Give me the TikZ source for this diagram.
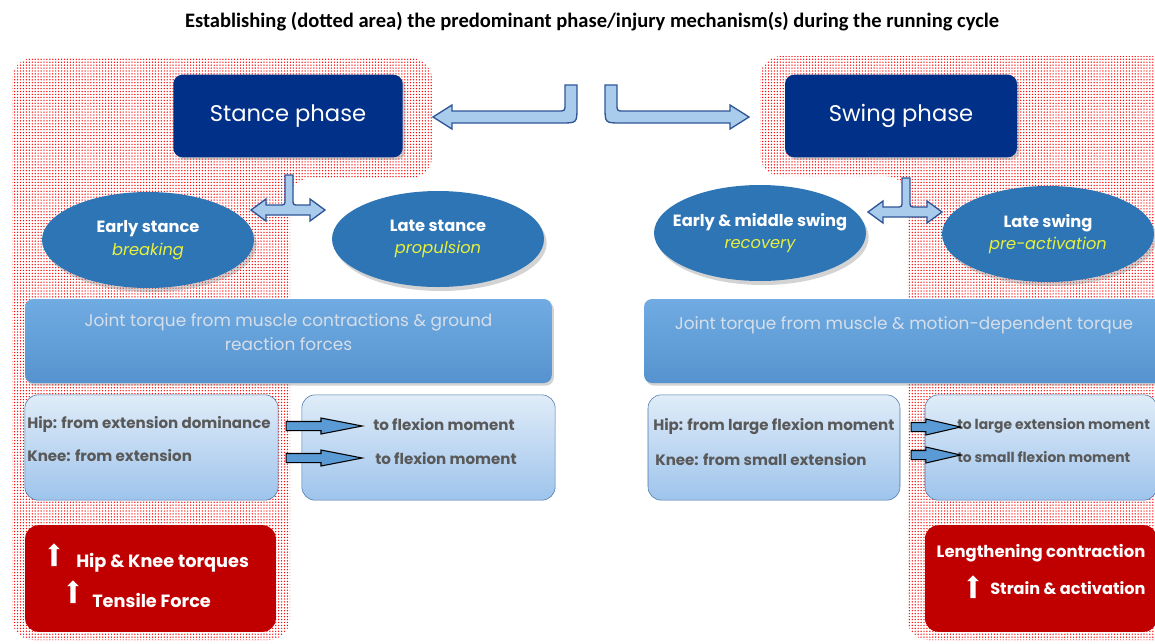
\documentclass[tikz,border=0pt]{standalone}
\usepackage{fontspec}
\setmainfont{Poppins}
\newfontfamily\titlefont{Carlito}
\usetikzlibrary{arrows.meta,positioning,shapes.geometric,shapes.arrows,shadows,patterns.meta}

\definecolor{navy}{RGB}{0,48,135}
\definecolor{ellblue}{RGB}{46,117,182}
\definecolor{widetop}{RGB}{112,172,226}
\definecolor{widebot}{RGB}{86,146,206}
\definecolor{widetext}{RGB}{214,222,234}
\definecolor{smalltop}{RGB}{224,236,248}
\definecolor{smallbot}{RGB}{158,196,236}
\definecolor{smallline}{RGB}{72,118,168}
\definecolor{graytext}{RGB}{89,89,89}
\definecolor{darkred}{RGB}{192,0,0}
\definecolor{ylw}{RGB}{232,240,60}
\definecolor{bentfill}{RGB}{170,204,236}
\definecolor{bentline}{RGB}{47,85,151}
\definecolor{blockfill}{RGB}{91,155,213}

\begin{document}
\begin{tikzpicture}[x=0.75pt,y=-0.75pt]
  \useasboundingbox (0,0) rectangle (1155,643);

  % dotted areas
  \begin{scope}[rounded corners=16pt]
    \path[pattern={Dots[distance=2.2pt,radius=0.55pt]}, pattern color=red]
      (12,58) -- (432,58) -- (432,178) -- (290,178) -- (290,640) -- (12,640) -- cycle;
    \path[pattern={Dots[distance=2.2pt,radius=0.55pt]}, pattern color=red]
      (760,56) -- (1175,56) -- (1175,640) -- (907,640) -- (907,176) -- (760,176) -- cycle;
  \end{scope}

  \node (title) at (592,22) {\titlefont\bfseries\fontsize{15.4}{17}\selectfont
    Establishing (dotted area) the predominant phase/injury mechanism(s) during the running cycle};

  % phase boxes
  \begin{scope}[every node/.style={rectangle, rounded corners=7pt, fill=navy, text=white,
      inner sep=0pt, minimum height=62pt, font=\fontsize{17}{19}\selectfont,
      drop shadow={shadow xshift=2pt, shadow yshift=-2pt, opacity=0.35}}]
    \node[minimum width=172pt] (stance) at (288,116) {Stance phase};
    \node[minimum width=174pt] (swing) at (901,116) {Swing phase};
  \end{scope}

  % bent arrows
  \begin{scope}[fill=bentfill, draw=bentline, line width=1pt]
    \filldraw (565,85) -- (565,104) .. controls (565,111) .. (558,111) -- (452,111)
      -- (452,105) -- (433,117) -- (452,129) -- (452,123) -- (561,123)
      .. controls (577,123) .. (577,107) -- (577,85) -- cycle;
    \filldraw (617,85) -- (617,104) .. controls (617,111) .. (624,111) -- (730,111)
      -- (730,105) -- (749,117) -- (730,129) -- (730,123) -- (621,123)
      .. controls (605,123) .. (605,107) -- (605,85) -- cycle;
    \filldraw (285,175) -- (285,199) .. controls (285,205) .. (279,205) -- (266,205)
      -- (266,199) -- (251,210) -- (266,221) -- (266,215) -- (310,215) -- (310,221)
      -- (325,210) -- (310,199) -- (310,205) -- (299,205) .. controls (293,205) .. (293,199)
      -- (293,175) -- cycle;
    \filldraw (902,178) -- (902,201) .. controls (902,207) .. (896,207) -- (883,207)
      -- (883,201) -- (868,212) -- (883,223) -- (883,217) -- (927,217) -- (927,223)
      -- (942,212) -- (927,201) -- (927,207) -- (916,207) .. controls (910,207) .. (910,201)
      -- (910,178) -- cycle;
  \end{scope}

  % sub-phases
  \begin{scope}[every node/.style={ellipse, fill=ellblue, text=white, inner xsep=-10pt,
      inner ysep=0pt, minimum width=159pt, minimum height=72pt, align=center,
      font=\fontsize{12.2}{17}\selectfont,
      drop shadow={shadow xshift=2pt, shadow yshift=-3pt, opacity=0.35}}]
    \node (early) at (148,240) {\bfseries Early stance\\{\color{ylw}\itshape breaking}};
    \node (late) at (438,239) {\bfseries Late stance\\{\color{ylw}\itshape propulsion}};
    \node (recov) at (760,233) {\bfseries Early \& middle swing\\{\color{ylw}\itshape recovery}};
    \node (preact) at (1048,234) {\bfseries Late swing\\{\color{ylw}\itshape pre-activation}};
  \end{scope}

  % torque boxes
  \begin{scope}[every node/.style={rectangle, rounded corners=6pt, top color=widetop,
      bottom color=widebot, text=widetext, inner sep=0pt, minimum height=63pt,
      align=center, font=\fontsize{12.7}{17.5}\selectfont,
      drop shadow={shadow xshift=1.5pt, shadow yshift=-2pt, opacity=0.35}}]
    \node[minimum width=395pt] (torqueL) at (288.5,341)
      {Joint torque from muscle contractions \& ground\\reaction forces\\[-4pt]};
    \node[minimum width=390pt] (torqueR) at (904,341)
      {Joint torque from muscle \& motion-dependent torque\\[10pt]};
  \end{scope}

  % moment boxes
  \begin{scope}[every node/.style={rectangle, rounded corners=10pt, top color=smalltop,
      bottom color=smallbot, draw=smallline, inner sep=0pt, minimum height=79pt}]
    \node[minimum width=190pt] (hipboxL) at (151.5,447.5) {};
    \node[minimum width=190pt] (toboxL) at (428.5,447.5) {};
    \node[minimum width=189pt] (hipboxR) at (774,447.5) {};
    \node[minimum width=174pt] (toboxR) at (1041,447.5) {};
  \end{scope}

  \begin{scope}[every node/.style={text=graytext, inner sep=0pt, anchor=west,
      font=\bfseries\fontsize{11.3}{13}\selectfont}]
    \node (hipL) at (27,424) {Hip: from extension dominance};
    \node (kneeL) at (27,456) {Knee: from extension};
    \node (flexA) at (373,425) {to flexion moment};
    \node (flexB) at (375,459) {to flexion moment};
    \node (hipR) at (653,427) {Hip: from large flexion moment};
    \node (kneeR) at (655,460) {Knee: from small extension};
    \node[font=\bfseries\fontsize{10.4}{12}\selectfont] (extC) at (957,426) {to large extension moment};
    \node[font=\bfseries\fontsize{10.4}{12}\selectfont] (flexC) at (957,457) {to small flexion moment};
  \end{scope}

  % block arrows
  \begin{scope}[every node/.style={single arrow, fill=blockfill, draw=black, thick,
      inner sep=3pt, single arrow head extend=2.6pt, single arrow head indent=0pt}]
    \node[minimum height=57pt, single arrow tip angle=22] (arA) at (312.5,426) {};
    \node[minimum height=57pt, single arrow tip angle=22] (arB) at (312.5,458) {};
    \node[minimum height=37pt, single arrow tip angle=26] (arC) at (926,427) {};
    \node[minimum height=37pt, single arrow tip angle=26] (arD) at (926,455) {};
  \end{scope}

  % injury mechanism
  \begin{scope}[every node/.style={rectangle, rounded corners=10pt, fill=darkred,
      inner sep=0pt, minimum height=80pt}]
    \node[minimum width=188pt] (mechL) at (150.5,578.5) {};
    \node[minimum width=174pt] (mechR) at (1041,578.5) {};
  \end{scope}

  \begin{scope}[every node/.style={text=white, inner sep=0pt, anchor=west,
      font=\bfseries\fontsize{13.3}{15}\selectfont}]
    \node (hk) at (76,563) {Hip \& Knee torques};
    \node (tf) at (92,600) {Tensile Force};
    \node[anchor=center, font=\bfseries\fontsize{12.3}{14}\selectfont] (lc) at (1041,553) {Lengthening contraction};
    \node[font=\bfseries\fontsize{12.1}{14}\selectfont] (sa) at (990,588) {Strain \& activation};
  \end{scope}

  \begin{scope}[every node/.style={single arrow, fill=white, shape border rotate=90,
      inner sep=1.8pt, minimum height=17pt, single arrow head extend=2.4pt,
      single arrow head indent=0pt}]
    \node (upA) at (54,556) {};
    \node (upB) at (73,593) {};
    \node (upC) at (973,588) {};
  \end{scope}
\end{tikzpicture}
\end{document}
